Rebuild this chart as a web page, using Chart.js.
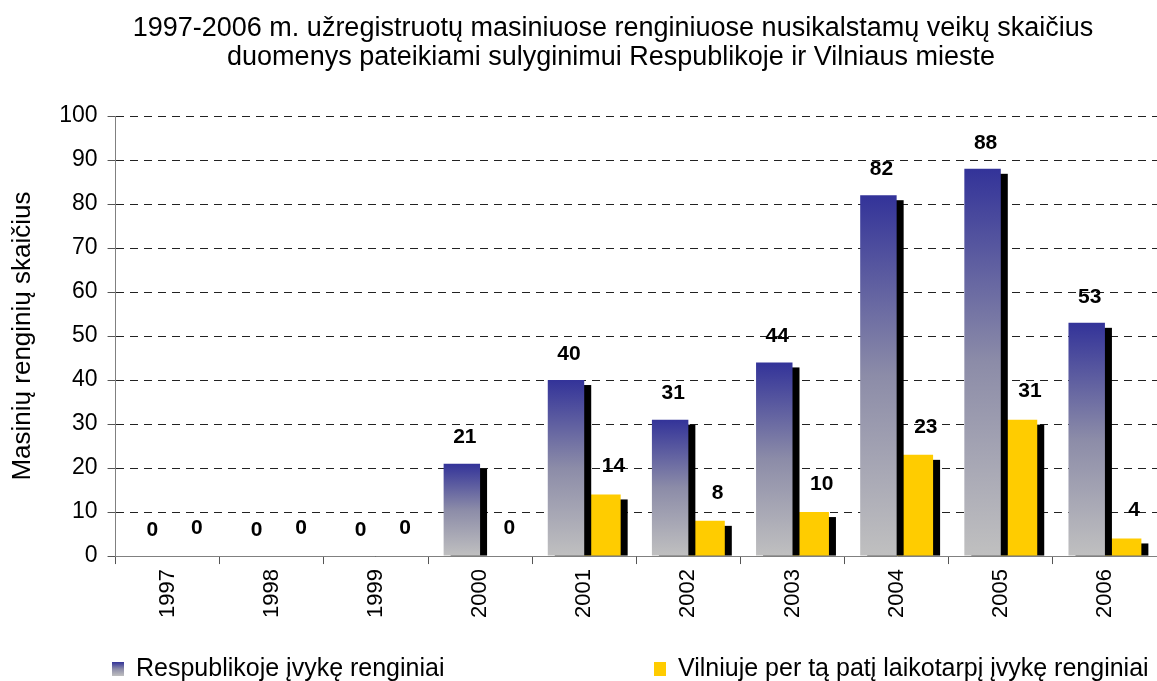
<!DOCTYPE html>
<html>
<head>
<meta charset="utf-8">
<script src="https://cdn.jsdelivr.net/npm/chart.js@4.4.0/dist/chart.umd.min.js"></script>
<style>
  html, body { margin: 0; padding: 0; background: #fff; }
  #wrap { width: 1157px; height: 681px; position: relative; }
</style>
</head>
<body>
<div id="wrap"><canvas id="chart"></canvas></div>
<script>
// chart data
const years = ['1997', '1998', '1999', '2000', '2001', '2002', '2003', '2004', '2005', '2006'];
const respublikoje = [0, 0, 0, 21, 40, 31, 44, 82, 88, 53];
const vilniuje = [0, 0, 0, 0, 14, 8, 10, 23, 31, 4];
const seriesNames = ['Respublikoje įvykę renginiai', 'Vilniuje per tą patį laikotarpį įvykę renginiai'];
const titleLines = [
    '1997-2006 m. užregistruotų masiniuose renginiuose nusikalstamų veikų skaičius',
    'duomenys pateikiami sulyginimui Respublikoje ir Vilniaus mieste'
];
const yTitle = 'Masinių renginių skaičius';

const FONT = "'Liberation Sans', Arial, sans-serif";

function blueGradient(ctx, top, bottom) {
    const g = ctx.createLinearGradient(0, top, 0, bottom);
    g.addColorStop(0, '#333399');
    g.addColorStop(0.5, '#8c8ca8');
    g.addColorStop(1, '#c0c0c0');
    return g;
}

const barExtras = {
    id: 'barExtras',
    // black drop shadow behind each bar
    beforeDatasetDraw(chart, args) {
        const ctx = chart.ctx;
        ctx.save();
        ctx.fillStyle = '#000';
        args.meta.data.forEach(bar => {
            const p = bar.getProps(['x', 'y', 'width', 'base'], true);
            if (p.base - p.y <= 5) return;
            ctx.fillRect(p.x - p.width / 2 + 7, p.y + 5, p.width, p.base - p.y - 5);
        });
        ctx.restore();
    },
    afterDatasetsDraw(chart) {
        const ctx = chart.ctx;
        ctx.save();
        ctx.font = 'bold 21px ' + FONT;
        ctx.fillStyle = '#000';
        ctx.textAlign = 'center';
        ctx.textBaseline = 'middle';
        const dx = [3, 11];
        const dy = [26, 28];
        chart.data.datasets.forEach((ds, i) => {
            chart.getDatasetMeta(i).data.forEach((bar, j) => {
                ctx.fillText(String(ds.data[j]), bar.x + dx[i], bar.y - dy[i]);
            });
        });
        ctx.restore();
    },
    // title and legend
    afterDraw(chart) {
        const ctx = chart.ctx;
        ctx.save();
        ctx.fillStyle = '#000';
        ctx.textBaseline = 'alphabetic';
        ctx.textAlign = 'center';
        ctx.font = '27px ' + FONT;
        ctx.fillText(titleLines[0], 613, 36);
        ctx.fillText(titleLines[1], 611, 65);

        ctx.textAlign = 'left';
        ctx.font = '25px ' + FONT;
        ctx.fillStyle = blueGradient(ctx, 662, 676);
        ctx.fillRect(112, 662, 12, 14);
        ctx.fillStyle = '#ffcc00';
        ctx.fillRect(654, 662, 12, 14);
        ctx.fillStyle = '#000';
        ctx.fillText(seriesNames[0], 136, 676);
        ctx.fillText(seriesNames[1], 678, 676);
        ctx.restore();
    }
};

new Chart(document.getElementById('chart'), {
    type: 'bar',
    data: {
        labels: years,
        datasets: [{
            label: seriesNames[0],
            data: respublikoje,
            backgroundColor: c => {
                const chart = c.chart;
                if (!chart.chartArea || c.raw === undefined) return '#333399';
                const y = chart.scales.y;
                const top = y.getPixelForValue(c.raw);
                const bottom = y.getPixelForValue(0);
                if (bottom - top < 1) return '#c0c0c0';
                return blueGradient(chart.ctx, top, bottom);
            },
            borderWidth: 0
        }, {
            label: seriesNames[1],
            data: vilniuje,
            backgroundColor: '#ffcc00',
            borderWidth: 0
        }]
    },
    options: {
        responsive: true,
        maintainAspectRatio: false,
        animation: false,
        datasets: {
            bar: {
                categoryPercentage: 0.7,
                barPercentage: 1.0
            }
        },
        layout: {
            padding: { left: 5, right: 0, top: 116, bottom: 58 }
        },
        plugins: {
            legend: { display: false },
            tooltip: { enabled: false },
            title: { display: false }
        },
        scales: {
            x: {
                grid: {
                    drawOnChartArea: false,
                    drawTicks: true,
                    tickLength: 8,
                    color: '#555'
                },
                border: { color: '#808080', width: 1 },
                ticks: {
                    color: '#000',
                    font: { family: FONT, size: 22 },
                    minRotation: 90,
                    maxRotation: 90,
                    padding: 5
                }
            },
            y: {
                min: 0,
                max: 100,
                ticks: {
                    stepSize: 10,
                    color: '#000',
                    font: { family: FONT, size: 23 },
                    padding: 10
                },
                grid: {
                    color: '#222',
                    tickBorderDash: [],
                    tickColor: '#555',
                    tickLength: 8
                },
                border: { color: '#808080', width: 1, dash: [8, 6] },
                title: {
                    display: true,
                    text: yTitle,
                    color: '#000',
                    font: { family: FONT, size: 26 },
                    padding: { top: 2, bottom: 11 }
                }
            }
        }
    },
    plugins: [barExtras]
});
</script>
</body>
</html>
